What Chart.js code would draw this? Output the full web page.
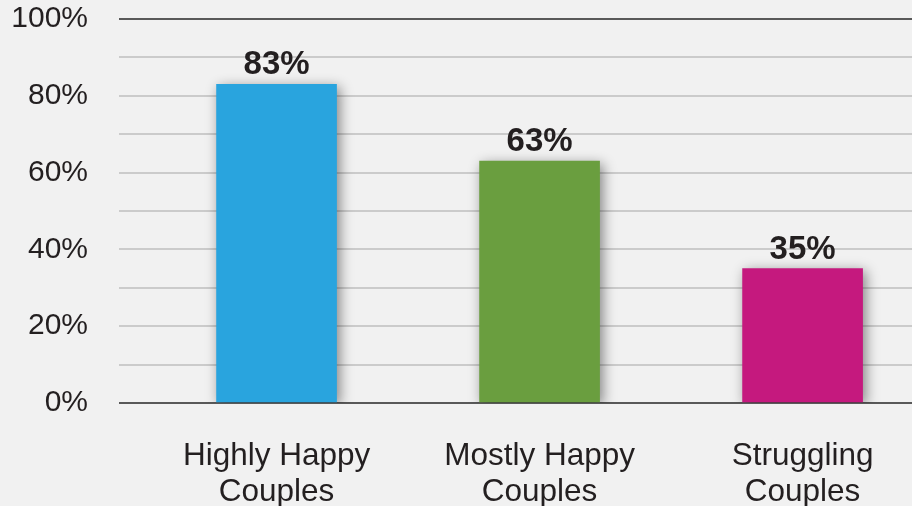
<!DOCTYPE html>
<html><head><meta charset="utf-8">
<script src="https://cdn.jsdelivr.net/npm/chart.js@4.4.0/dist/chart.umd.min.js"></script>
<style>
html,body{margin:0;padding:0;background:#f1f1f1;}
#wrap{width:912px;height:506px;position:relative;}
</style></head>
<body><div id="wrap"><canvas id="c" width="912" height="506"></canvas></div>
<script>
const categories = [["Highly Happy","Couples"],["Mostly Happy","Couples"],["Struggling","Couples"]];
const values = [83, 63, 35];
const barColors = ["#29a4de", "#6a9e3f", "#c5197e"];
const yTicks = [0, 20, 40, 60, 80, 100];

const shadowPlugin = {
  id: 'shadow',
  beforeDatasetDraw(chart){ const c = chart.ctx; c.save(); c.shadowColor='rgba(0,0,0,0.45)'; c.shadowBlur=12; c.shadowOffsetX=3; c.shadowOffsetY=3; },
  afterDatasetDraw(chart){ chart.ctx.restore(); }
};
const labelPlugin = {
  id: 'vlabels',
  afterDatasetsDraw(chart){
    const c = chart.ctx; const meta = chart.getDatasetMeta(0);
    c.save(); c.font = 'bold 33px "Liberation Sans", Arial, sans-serif'; c.fillStyle = '#231f20';
    c.textAlign = 'center'; c.textBaseline = 'alphabetic';
    meta.data.forEach((el, i) => { c.fillText(values[i] + '%', el.x, el.y - 10); });
    c.restore();
  }
};

new Chart(document.getElementById('c'), {
  type: 'bar',
  data: { datasets: [{ data: values.map((v, i) => ({x: i, y: v})), backgroundColor: barColors, barThickness: 120, borderWidth: 0 }] },
  options: {
    responsive: false, animation: false,
    layout: { padding: { top: 19, left: 0, right: 0, bottom: 0 } },
    plugins: { legend: { display: false }, tooltip: { enabled: false } },
    scales: {
      x: {
        type: 'linear', min: -0.599, max: 2.416, offset: false,
        grid: { display: false }, border: { display: false },
        afterBuildTicks(s){ s.ticks = categories.map((c, i) => ({ value: i })); },
        afterFit(s){ s.height = 103; s.paddingLeft = 0; s.paddingRight = 0; },
        ticks: { autoSkip: false, maxRotation: 0, padding: 27, color: '#231f20', font: { family: '"Liberation Sans", Arial, sans-serif', size: 31.5, lineHeight: 1.14 },
          callback: (v) => categories[v] }
      },
      y: {
        min: 0, max: 100,
        afterBuildTicks(s){ const t=[]; for(let v=0; v<=100; v+=10) t.push({value:v}); s.ticks = t; },
        afterFit(s){ s.width = 119; s.paddingTop = 0; s.paddingBottom = 0; },
        border: { display: false },
        grid: { drawTicks: false, tickLength: 0, lineWidth: 2,
          color: (ctx) => (ctx.tick && (ctx.tick.value === 0 || ctx.tick.value === 100)) ? '#595959' : '#cbcbcb' },
        ticks: { autoSkip: false, padding: 31, color: '#231f20', font: { family: '"Liberation Sans", Arial, sans-serif', size: 30 },
          callback: (v) => yTicks.includes(v) ? v + '%' : '' }
      }
    }
  },
  plugins: [shadowPlugin, labelPlugin]
});
</script></body></html>
